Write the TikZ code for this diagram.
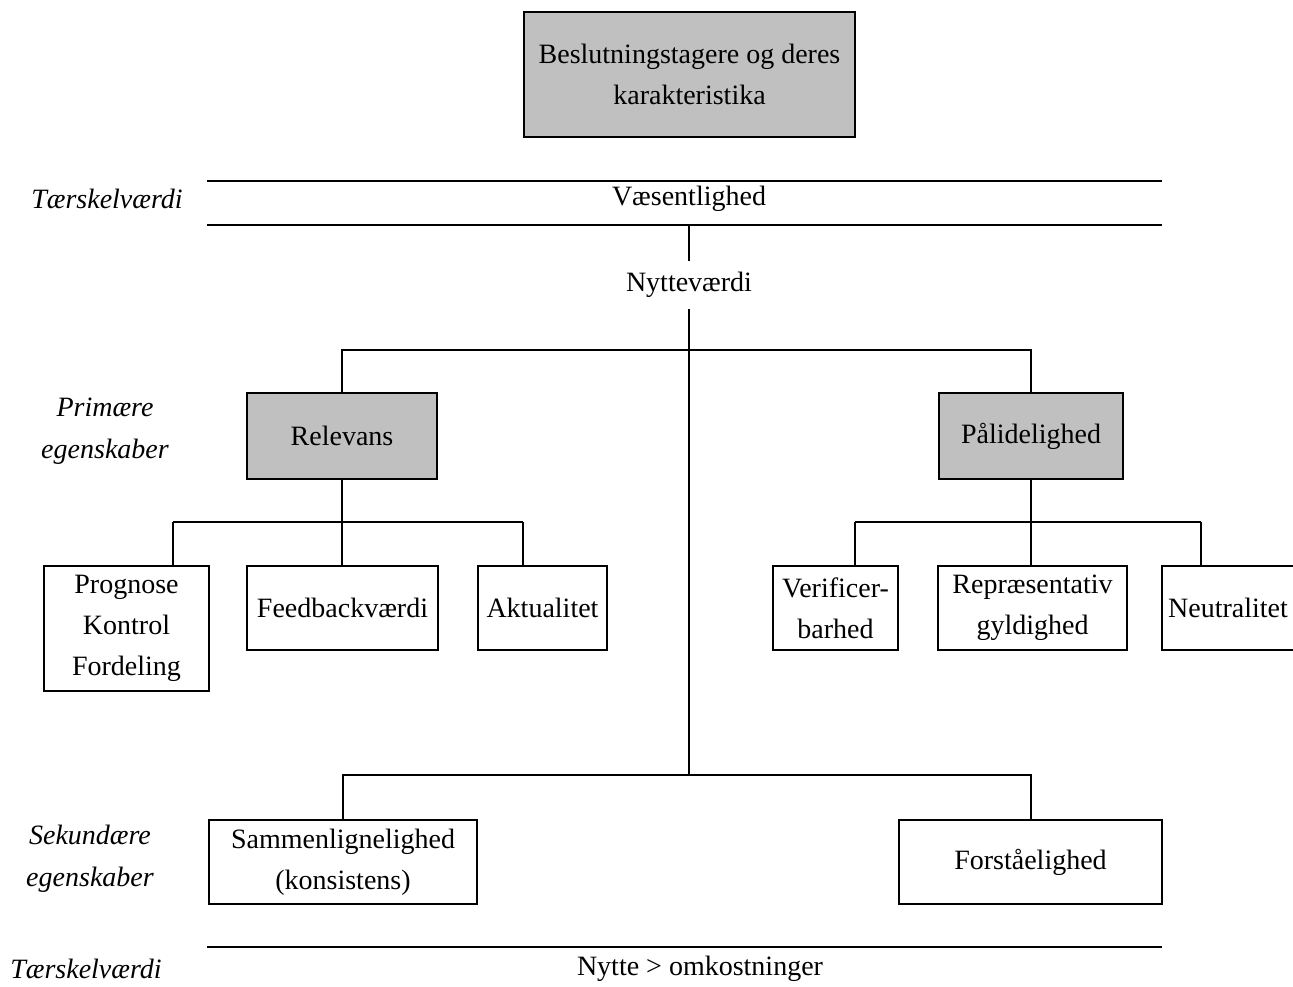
\documentclass[tikz,border=0pt]{standalone}
\usepackage{fontspec}
\setmainfont{Liberation Serif}
\definecolor{boxgray}{HTML}{C0C0C0}
\begin{document}
\begin{tikzpicture}[x=1pt,y=-1pt,
  line width=2pt,
  every node/.style={font=\fontsize{28}{41}\selectfont, inner sep=0pt, align=center},
  box/.style={draw, line width=2.4pt, rectangle, minimum height=84pt},
  grayfill/.style={box, fill=boxgray},
  sidelabel/.style={font=\fontsize{28}{42}\selectfont\itshape}]
\useasboundingbox (0,0) rectangle (1293,987);
\clip (0,0) rectangle (1293,987);

% top box
\node[grayfill, minimum width=331pt, minimum height=125pt] (top) at (689.5,74.5)
  {Beslutningstagere og deres\\karakteristika};

% threshold band: Væsentlighed
\coordinate (t1l) at (207,181); \coordinate (t1r) at (1162,181);
\coordinate (t2l) at (207,225); \coordinate (t2r) at (1162,225);
\draw (t1l) -- (t1r);
\draw (t2l) -- (t2r);
\node (vaes) at (689,199) {Væsentlighed};
\node[sidelabel] (taer1) at (107,199) {Tærskelværdi};

% Nytteværdi
\node[minimum height=46pt] (nytte) at (689,285) {Nytteværdi};
\coordinate (nyttetop) at (689,225);
\draw (nyttetop) -- (nytte.north);

% primary properties
\node[grayfill, minimum width=190pt, minimum height=86pt] (rel) at (342,436) {Relevans};
\node[grayfill, minimum width=184pt, minimum height=86pt] (pal) at (1031,436) {Pålidelighed};
\node[sidelabel] (prim) at (105,431) {Primære\\egenskaber};

\coordinate (bar1) at (689,350);
\draw (rel.north) -- (rel.north |- bar1) -- (pal.north |- bar1) -- (pal.north);

% trunk down to the secondary properties
\coordinate (bar3) at (689,775);
\draw (nytte.south) -- (bar3);

% Relevans children
\node[box, minimum width=165pt, minimum height=125pt] (prog) at (126.5,628.5)
  {Prognose\\Kontrol\\Fordeling};
\node[box, minimum width=191pt] (feed) at (342.5,608) {Feedbackværdi};
\node[box, minimum width=129pt] (akt) at (542.5,608) {Aktualitet};

\coordinate (rb) at (342,522);
\coordinate (rbl) at (173,522);
\coordinate (rbr) at (523,522);
\draw (rel.south) -- (rb);
\draw (rbl) -- (rbr);
\draw (rbl) -- (rbl |- prog.north);
\draw (rb) -- (rb |- feed.north);
\draw (rbr) -- (rbr |- akt.north);

% Pålidelighed children
\node[box, minimum width=125pt] (verif) at (835.5,608) {Verificer-\\barhed};
\node[box, minimum width=189pt] (repr) at (1032.5,608) {Repræsentativ\\gyldighed};
\node[box, minimum width=132pt] (neut) at (1228,608) {Neutralitet};

\coordinate (pb) at (1031,522);
\coordinate (pbl) at (855,522);
\coordinate (pbr) at (1201,522);
\draw (pal.south) -- (pb);
\draw (pbl) -- (pbr);
\draw (pbl) -- (pbl |- verif.north);
\draw (pb) -- (pb |- repr.north);
\draw (pbr) -- (pbr |- neut.north);

% secondary properties
\node[box, minimum width=268pt] (samm) at (343,862) {Sammenlignelighed\\(konsistens)};
\node[box, minimum width=263pt] (forst) at (1030.5,862) {Forståelighed};
\node[sidelabel] (sek) at (90,859) {Sekundære\\egenskaber};
\draw (samm.north) -- (samm.north |- bar3) -- (forst.north |- bar3) -- (forst.north);

% bottom threshold
\coordinate (t3l) at (207,947); \coordinate (t3r) at (1162,947);
\draw (t3l) -- (t3r);
\node (nyom) at (700,969) {Nytte > omkostninger};
\node[sidelabel] (taer2) at (86,969) {Tærskelværdi};
\end{tikzpicture}
\end{document}
